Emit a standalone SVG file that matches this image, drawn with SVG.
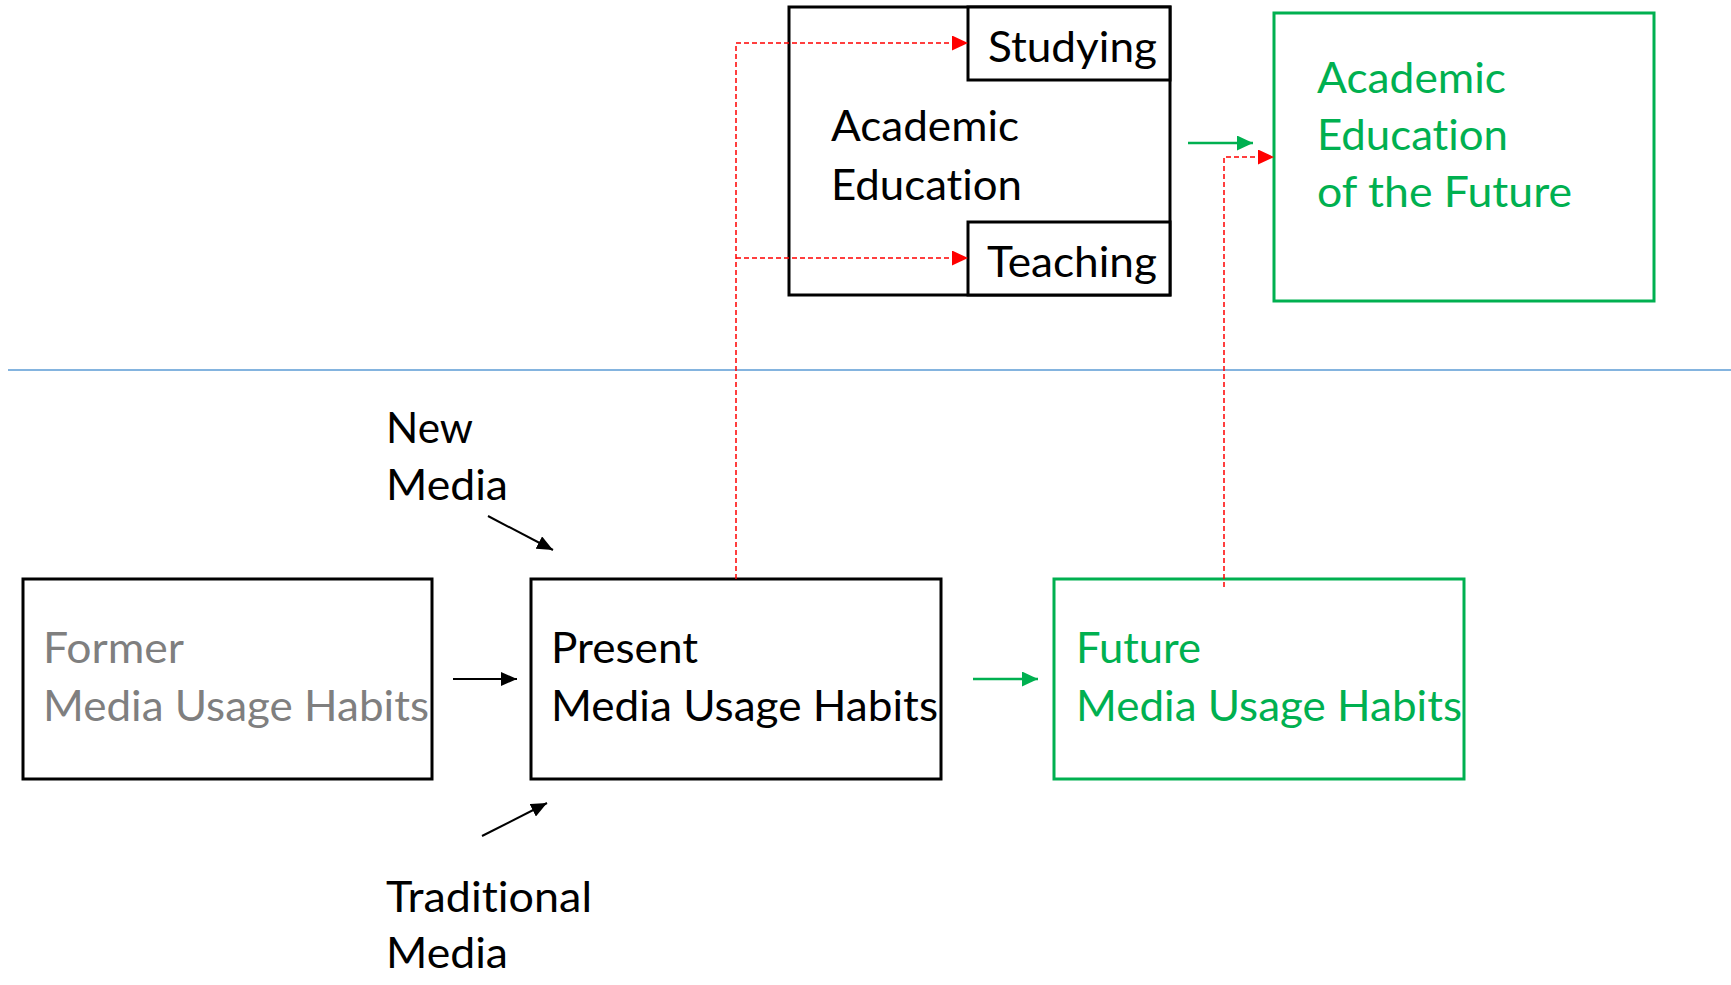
<svg xmlns="http://www.w3.org/2000/svg" width="1731" height="985" viewBox="0 0 1731 985">
<style>
text{font-family:Lato,"Open Sans","Liberation Sans",sans-serif;font-size:42px;font-variant-ligatures:none;font-feature-settings:"liga" 0;}
.k{fill:#000;}
.g{fill:#00B050;}
.gr{fill:#7F7F7F;}
.bx{fill:#fff;stroke:#000;stroke-width:3;}
.gbx{fill:#fff;stroke:#00B050;stroke-width:3;}
.ka{stroke:#000;stroke-width:2;fill:none;}
.ga{stroke:#00B050;stroke-width:2.5;fill:none;}
.ra{stroke:#FF0000;stroke-width:1.5;stroke-dasharray:5 3;fill:none;}
</style>
<defs>
<marker id="ak" markerUnits="userSpaceOnUse" markerWidth="16" markerHeight="14" refX="16" refY="7" orient="auto"><path d="M0,0 L16,7 L0,14 z" fill="#000"/></marker>
<marker id="ag" markerUnits="userSpaceOnUse" markerWidth="16" markerHeight="15" refX="16" refY="7.5" orient="auto"><path d="M0,0 L16,7.5 L0,15 z" fill="#00B050"/></marker>
<marker id="ar" markerUnits="userSpaceOnUse" markerWidth="16" markerHeight="15" refX="16" refY="7.5" orient="auto"><path d="M0,0 L16,7.5 L0,15 z" fill="#FF0000"/></marker>
</defs>
<line x1="8" y1="370" x2="1731" y2="370" stroke="#5B9BD5" stroke-width="1.5"/>
<g id="academic-education">
<rect class="bx" x="789" y="7" width="381" height="288"/>
<text class="k" x="831" y="141" textLength="188" lengthAdjust="spacingAndGlyphs">Academic</text>
<text class="k" x="831" y="200" textLength="191" lengthAdjust="spacingAndGlyphs">Education</text>
</g>
<g id="studying">
<rect class="bx" x="968" y="7" width="202" height="73"/>
<text class="k" x="988" y="62" textLength="169" lengthAdjust="spacingAndGlyphs">Studying</text>
</g>
<g id="teaching">
<rect class="bx" x="968" y="222" width="202" height="73"/>
<text class="k" x="987" y="277" textLength="170" lengthAdjust="spacingAndGlyphs">Teaching</text>
</g>
<g id="academic-future">
<rect class="gbx" x="1274" y="13" width="380" height="288"/>
<text class="g" x="1317" y="93" textLength="189" lengthAdjust="spacingAndGlyphs">Academic</text>
<text class="g" x="1317" y="150" textLength="191" lengthAdjust="spacingAndGlyphs">Education</text>
<text class="g" x="1317" y="207" textLength="255" lengthAdjust="spacingAndGlyphs">of the Future</text>
</g>
<g id="former">
<rect class="bx" x="23" y="579" width="409" height="200"/>
<text class="gr" x="43" y="663" textLength="141" lengthAdjust="spacingAndGlyphs">Former</text>
<text class="gr" x="43" y="721" textLength="386" lengthAdjust="spacingAndGlyphs">Media Usage Habits</text>
</g>
<g id="present">
<rect class="bx" x="531" y="579" width="410" height="200"/>
<text class="k" x="551" y="663" textLength="147" lengthAdjust="spacingAndGlyphs">Present</text>
<text class="k" x="551" y="721" textLength="387" lengthAdjust="spacingAndGlyphs">Media Usage Habits</text>
</g>
<g id="future">
<rect class="gbx" x="1054" y="579" width="410" height="200"/>
<text class="g" x="1076" y="663" textLength="125" lengthAdjust="spacingAndGlyphs">Future</text>
<text class="g" x="1076" y="721" textLength="386" lengthAdjust="spacingAndGlyphs">Media Usage Habits</text>
</g>
<g id="new-media">
<text class="k" x="386" y="443" textLength="87" lengthAdjust="spacingAndGlyphs">New</text>
<text class="k" x="386" y="500" textLength="122" lengthAdjust="spacingAndGlyphs">Media</text>
</g>
<g id="traditional-media">
<text class="k" x="386" y="912" textLength="206" lengthAdjust="spacingAndGlyphs">Traditional</text>
<text class="k" x="386" y="968" textLength="122" lengthAdjust="spacingAndGlyphs">Media</text>
</g>
<g id="connectors">
<path class="ka" d="M453,679 H517" marker-end="url(#ak)"/>
<path class="ka" d="M488,516 L553,550" marker-end="url(#ak)"/>
<path class="ka" d="M482,836 L547,803" marker-end="url(#ak)"/>
<path class="ga" d="M973,679 H1038" marker-end="url(#ag)"/>
<path class="ga" d="M1188,143 H1253" marker-end="url(#ag)"/>
<path class="ra" d="M736,579 V43 H968" marker-end="url(#ar)"/>
<path class="ra" d="M736,258 H968" marker-end="url(#ar)"/>
<path class="ra" d="M1224,587 V157 H1274" marker-end="url(#ar)"/>
</g>
</svg>
